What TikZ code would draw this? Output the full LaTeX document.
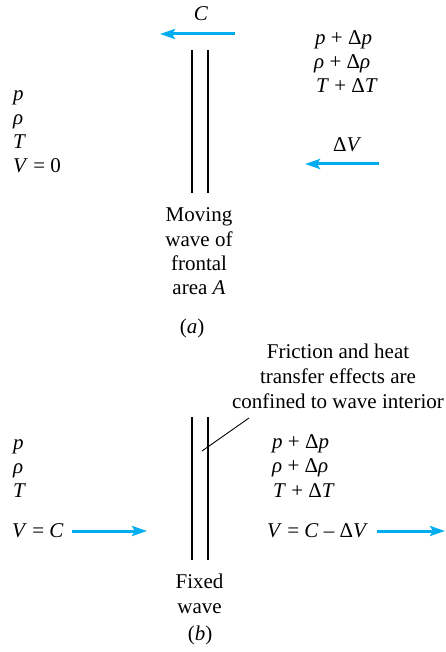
\documentclass[tikz,border=0pt]{standalone}
\usepackage{fontspec}
\setmainfont{Liberation Serif}
\usetikzlibrary{arrows.meta}
\definecolor{flow}{RGB}{0,174,239}
\begin{document}
\begin{tikzpicture}[x=1pt,y=-1pt,
  lbl/.style={inner sep=0pt, font=\fontsize{21}{25}\selectfont},
  wall/.style={line width=1.2pt},
  leader/.style={line width=0.9pt},
  flowarrow/.style={draw=flow, line width=3pt, -{Stealth[length=15pt,width=10pt,inset=3pt]}}]
\useasboundingbox (0,0) rectangle (446,652);
% ---------- (a) ----------
\node[lbl, anchor=base] (C) at (201,21) {\textit{C}};
\coordinate (ca1) at (235,34);
\coordinate (ca2) at (160,34);
\draw[flowarrow] (ca1) -- (ca2);
\coordinate (wa1t) at (192,50); \coordinate (wa1b) at (192,193);
\coordinate (wa2t) at (208,50); \coordinate (wa2b) at (208,193);
\draw[wall] (wa1t) -- (wa1b);
\draw[wall] (wa2t) -- (wa2b);
\node[lbl, anchor=base west] (pa) at (13,101) {\textit{p}};
\node[lbl, anchor=base west] (ra) at (13,125) {\textit{ρ}};
\node[lbl, anchor=base west] (ta) at (13,149) {\textit{T}};
\node[lbl, anchor=base west] (va) at (13,173) {\textit{V} = 0};
\node[lbl, anchor=base west] (pda) at (315,45) {\textit{p} + Δ\textit{p}};
\node[lbl, anchor=base west] (rda) at (314,69) {\textit{ρ} + Δ\textit{ρ}};
\node[lbl, anchor=base west] (tda) at (316,93) {\textit{T} + Δ\textit{T}};
\node[lbl, anchor=base west] (dV) at (333,152) {Δ\textit{V}};
\coordinate (da1) at (379,164);
\coordinate (da2) at (305,164);
\draw[flowarrow] (da1) -- (da2);
\node[lbl, anchor=base] (mv1) at (199,222) {Moving};
\node[lbl, anchor=base] (mv2) at (199,246) {wave of};
\node[lbl, anchor=base] (mv3) at (199,270) {frontal};
\node[lbl, anchor=base] (mv4) at (199,294) {area \textit{A}};
\node[lbl, anchor=base] (capa) at (192,333) {(\textit{a})};
% ---------- (b) ----------
\node[lbl, anchor=base] (fr1) at (338,358) {Friction and heat};
\node[lbl, anchor=base] (fr2) at (338,383) {transfer effects are};
\node[lbl, anchor=base] (fr3) at (338,408) {confined to wave interior};
\coordinate (ld1) at (249,418);
\coordinate (ld2) at (202,451);
\draw[leader] (ld1) -- (ld2);
\coordinate (wb1t) at (192,417); \coordinate (wb1b) at (192,560);
\coordinate (wb2t) at (208,417); \coordinate (wb2b) at (208,560);
\draw[wall] (wb1t) -- (wb1b);
\draw[wall] (wb2t) -- (wb2b);
\node[lbl, anchor=base west] (pb) at (13,449) {\textit{p}};
\node[lbl, anchor=base west] (rb) at (13,473) {\textit{ρ}};
\node[lbl, anchor=base west] (tb) at (13,497) {\textit{T}};
\node[lbl, anchor=base west] (vb) at (12,537) {\textit{V} = \textit{C}};
\coordinate (ba1) at (72,531);
\coordinate (ba2) at (147,531);
\draw[flowarrow] (ba1) -- (ba2);
\node[lbl, anchor=base west] (pdb) at (272,448) {\textit{p} + Δ\textit{p}};
\node[lbl, anchor=base west] (rdb) at (272,472) {\textit{ρ} + Δ\textit{ρ}};
\node[lbl, anchor=base west] (tdb) at (273,497) {\textit{T} + Δ\textit{T}};
\node[lbl, anchor=base west] (vdb) at (267,537) {\textit{V} = \textit{C} – Δ\textit{V}};
\coordinate (bb1) at (377,531);
\coordinate (bb2) at (445,531);
\draw[flowarrow] (bb1) -- (bb2);
\node[lbl, anchor=base] (fx1) at (199.5,588) {Fixed};
\node[lbl, anchor=base] (fx2) at (199.5,613) {wave};
\node[lbl, anchor=base] (capb) at (200,640) {(\textit{b})};
\end{tikzpicture}
\end{document}
